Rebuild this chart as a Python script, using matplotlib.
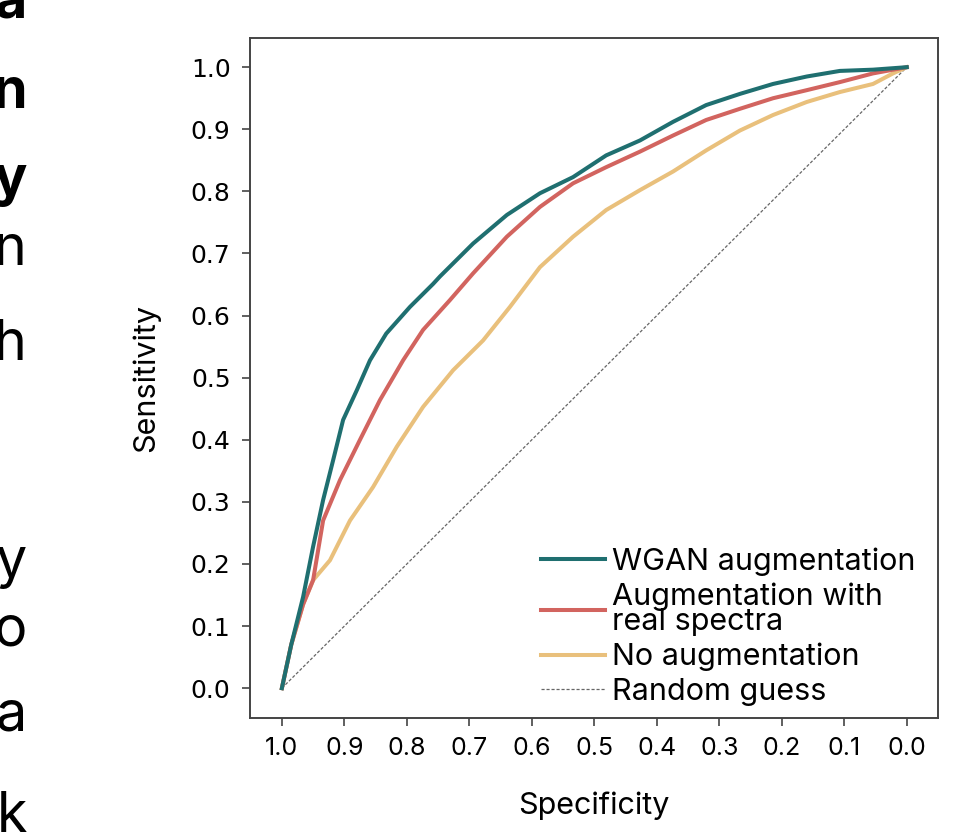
import numpy as np
import matplotlib.pyplot as plt

# ROC curves (specificity, sensitivity)
wgan_spec = [1.0, 0.985, 0.966, 0.950, 0.934, 0.918, 0.902, 0.880, 0.859, 0.833, 0.795, 0.758,
             0.747, 0.694, 0.640, 0.587, 0.534, 0.481, 0.427, 0.374, 0.321, 0.267, 0.214,
             0.160, 0.107, 0.054, 0.0]
wgan_sens = [0.0, 0.07, 0.147, 0.228, 0.303, 0.367, 0.432, 0.480, 0.528, 0.571, 0.614, 0.651,
             0.663, 0.716, 0.762, 0.797, 0.823, 0.858, 0.882, 0.912, 0.939, 0.957, 0.973,
             0.985, 0.994, 0.996, 1.0]

real_spec = [1.0, 0.985, 0.966, 0.950, 0.934, 0.907, 0.875, 0.843, 0.806, 0.774, 0.731, 0.694,
             0.640, 0.587, 0.534, 0.481, 0.427, 0.374, 0.321, 0.267, 0.214, 0.160, 0.107,
             0.054, 0.0]
real_sens = [0.0, 0.07, 0.135, 0.174, 0.270, 0.335, 0.400, 0.464, 0.528, 0.577, 0.625, 0.668,
             0.727, 0.775, 0.813, 0.839, 0.864, 0.890, 0.915, 0.933, 0.950, 0.963, 0.976,
             0.990, 1.0]

noaug_spec = [1.0, 0.985, 0.966, 0.950, 0.923, 0.891, 0.854, 0.816, 0.774, 0.726, 0.678, 0.635,
              0.587, 0.534, 0.481, 0.427, 0.374, 0.321, 0.267, 0.214, 0.160, 0.107, 0.054,
              0.022, 0.0]
noaug_sens = [0.0, 0.07, 0.135, 0.174, 0.206, 0.270, 0.324, 0.389, 0.453, 0.512, 0.560, 0.614,
              0.678, 0.727, 0.770, 0.802, 0.832, 0.866, 0.898, 0.923, 0.944, 0.960, 0.973,
              0.990, 1.0]

ticks = [1.0, 0.9, 0.8, 0.7, 0.6, 0.5, 0.4, 0.3, 0.2, 0.1, 0.0]

# cropped letters from the page text on the left
side_letters = ['a', 'n', 'y', 'n', 'h', 'y', 'o', 'a', 'k']
side_bold = [True, True, True, False, False, False, False, False, False]
side_baseline_px = [18, 108, 196, 265, 360, 578, 645, 730, 832]

plt.rcParams['font.family'] = ['Inter', 'DejaVu Sans']

fig = plt.figure(figsize=(9.67, 8.38), dpi=100)
ax = fig.add_axes([250 / 967, 1 - 718 / 838, 688 / 967, 680 / 838])

ax.plot(wgan_spec, wgan_sens, color='#1f6f70', lw=2.9, label='WGAN augmentation', zorder=4)
ax.plot(real_spec, real_sens, color='#d2645f', lw=2.9, label='Augmentation with\nreal spectra', zorder=3)
ax.plot(noaug_spec, noaug_sens, color='#e9c07c', lw=2.9, label='No augmentation', zorder=2)
ax.plot([1, 0], [0, 1], color='#666666', lw=0.9, ls=(0, (2.5, 1.5)), label='Random guess', zorder=1)

ax.set_xlim(1.051, -0.05)
ax.set_ylim(-0.048, 1.047)
ax.set_xticks(ticks)
ax.set_yticks(ticks)
ax.set_xticklabels([f'{t:.1f}' for t in ticks], fontsize=18)
ax.set_yticklabels([f'{t:.1f}' for t in ticks], fontsize=18, family=['DejaVu Sans'])
ax.tick_params(length=6, width=1.2, color='#444444', pad=8)
for s in ax.spines.values():
    s.set_color('#444444')
    s.set_linewidth(1.4)
ax.set_xlabel('Specificity', fontsize=22, labelpad=22)
ax.set_ylabel('Sensitivity', fontsize=22, labelpad=22)

leg = ax.legend(loc='lower right', bbox_to_anchor=(0.99, -0.005), frameon=False, fontsize=22,
                handlelength=2.1, handletextpad=0.25, labelspacing=0.22, borderaxespad=0.1)
for t in leg.get_texts():
    t.set_linespacing(0.88)

for ch, b, yb in zip(side_letters, side_bold, side_baseline_px):
    fig.text(27 / 967, 1 - yb / 838, ch, ha='right', va='baseline', fontsize=40,
             fontweight='bold' if b else 'normal')

fig.savefig('out.png', dpi=100)
